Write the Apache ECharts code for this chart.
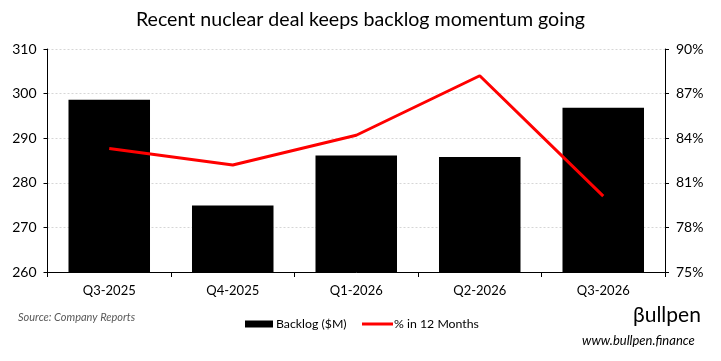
<!DOCTYPE html>
<html>
<head>
<meta charset="utf-8">
<script src="https://cdn.jsdelivr.net/npm/echarts@6/dist/echarts.min.js"></script>
<style>html,body{margin:0;padding:0;background:#fff}#c{width:721px;height:361px}</style>
</head>
<body>
<div id="c"></div>
<script>
const categories = ['Q3-2025', 'Q4-2025', 'Q1-2026', 'Q2-2026', 'Q3-2026'];
const backlog = [298.6, 274.9, 286.1, 285.8, 296.8];
const pctIn12Months = [83.3, 82.2, 84.2, 88.2, 80.1];
const leftTicks = [260, 270, 280, 290, 300, 310];
const rightTicks = [75, 78, 81, 84, 87, 90];

const FONT = 'Lato, "Open Sans", sans-serif';
const chart = echarts.init(document.getElementById('c'));
chart.setOption({
  animation: false,
  backgroundColor: '#fff',
  textStyle: { fontFamily: FONT },
  title: {
    text: 'Recent nuclear deal keeps backlog momentum going',
    left: 'center', top: 5,
    textStyle: { fontFamily: FONT, fontSize: 19.6, fontWeight: 'normal', color: '#000' }
  },
  legend: [
    {
      data: [{ name: 'Backlog ($M)', icon: 'rect' }],
      left: 240, top: 313, itemWidth: 28, itemHeight: 7, itemGap: 4,
      textStyle: { fontFamily: FONT, fontSize: 12.3, color: '#000', padding: [0, 0, 0, -2] }
    },
    {
      data: [{ name: '% in 12 Months', icon: 'rect' }],
      left: 357, top: 313, itemWidth: 31, itemHeight: 3, itemGap: 4,
      textStyle: { fontFamily: FONT, fontSize: 12.3, color: '#000', padding: [0, 0, 0, -4] }
    }
  ],
  graphic: [
    { type: 'text', left: 18, top: 312, style: { text: 'Source: Company Reports', font: 'italic 11px ' + FONT, fill: '#595959' } },
    { type: 'text', left: 633, top: 305, style: { text: 'βullpen', font: '21px ' + FONT, fill: '#000' } },
    { type: 'text', left: 582, top: 334, style: { text: 'www.bullpen.finance', font: 'italic 13px ' + FONT, fill: '#000' } }
  ],
  grid: { left: 47.5, right: 56, top: 49, bottom: 89, containLabel: false },
  xAxis: {
    type: 'category', data: categories,
    axisLine: { lineStyle: { color: '#000', width: 1 } },
    axisTick: { show: true, alignWithLabel: false, length: 5, lineStyle: { color: '#000' } },
    axisLabel: { color: '#000', fontSize: 13, margin: 12, fontFamily: FONT }
  },
  yAxis: [
    {
      type: 'value', min: leftTicks[0], max: leftTicks[leftTicks.length - 1], interval: 10,
      axisLine: { show: true, lineStyle: { color: '#000' } },
      axisTick: { show: true, length: 4, lineStyle: { color: '#000' } },
      axisLabel: { color: '#000', fontSize: 14, margin: 11, fontFamily: FONT },
      splitLine: { show: true, lineStyle: { color: '#d6d6d6', type: [2, 2], width: 1 } }
    },
    {
      type: 'value', min: rightTicks[0], max: rightTicks[rightTicks.length - 1], interval: 3,
      axisLine: { show: true, lineStyle: { color: '#000' } },
      axisTick: { show: true, length: 4, lineStyle: { color: '#000' } },
      axisLabel: { color: '#000', fontSize: 14, margin: 11, fontFamily: FONT, formatter: '{value}%' },
      splitLine: { show: false }
    }
  ],
  series: [
    {
      name: 'Backlog ($M)', type: 'bar', data: backlog, yAxisIndex: 0,
      barWidth: '66%', itemStyle: { color: '#000' }
    },
    {
      name: '% in 12 Months', type: 'line', data: pctIn12Months, yAxisIndex: 1,
      symbol: 'none', lineStyle: { color: '#ff0000', width: 3 }, itemStyle: { color: '#ff0000' }
    }
  ]
});
</script>
</body>
</html>
